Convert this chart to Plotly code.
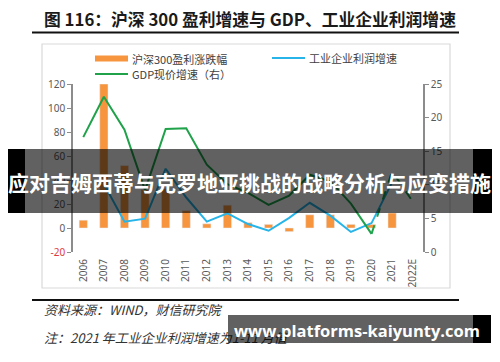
import plotly.graph_objects as go

# ---------------- data ----------------
years = ["2006", "2007", "2008", "2009", "2010", "2011", "2012", "2013", "2014",
         "2015", "2016", "2017", "2018", "2019", "2020", "2021", "2022E"]
csi300_profit = [6.5, 120, 52, 32, 33, 14.5, 3.5, 19, 4.5, 3, -3, 11, 11, 3, 3, 12.5, None]
industrial_profit = [None, 36.7, 5.2, 7.8, 49.4, 25.4, 5.3, 12.2, 3.3, -2.3, 8.5, 21.0,
                     10.3, -3.3, 4.1, 38.0, None]
gdp_nominal = [17.1, 23.1, 18.2, 9.2, 18.3, 18.4, 13.0, 10.1, 8.8, 7.0, 8.4, 11.5,
               10.5, 7.2, 2.7, 12.0, 7.5]
left_ticks = [-20, 0, 20, 40, 60, 80, 100, 120]
right_ticks = [0, 5, 10, 15, 20, 25]

title_text = "图 116：沪深 300 盈利增速与 GDP、工业企业利润增速"
legend_bar = "沪深300盈利涨跌幅"
legend_gdp = "GDP现价增速（右）"
legend_ind = "工业企业利润增速"
source_text = "资料来源：WIND，财信研究院"
note_text = "注：2021 年工业企业利润增速为1-11 月值"
banner_text = "应对吉姆西蒂与克罗地亚挑战的战略分析与应变措施"
site_text = "www.platforms-kaiyunty.com"

# ---------------- geometry helpers ----------------
# page body has an 8px default margin, so the figure is drawn 8px in from the
# window's top-left corner; size the figure so it exactly fills the window.
OFF = 8
W, H = 500, 362
L, R, T, B = 73, 423, 84, 252


def PX(x):
    return (x - L) / (R - L)


def PY(y):
    return (B - y) / (B - T)


ORANGE = "#F7953F"
BLUE = "#27B4E8"
GREEN = "#1FA24A"
AXIS = "#8C8C8C"
TICKC = "#595959"
CJK = "Noto Sans CJK SC"

fig = go.Figure()

fig.add_trace(go.Bar(x=years, y=csi300_profit, marker_color=ORANGE,
                     showlegend=False, yaxis="y"))
fig.add_trace(go.Scatter(x=years, y=industrial_profit, mode="lines",
                         line=dict(color=BLUE, width=2), showlegend=False,
                         yaxis="y"))
split = years.index("2020")
fig.add_trace(go.Scatter(x=years[:split + 1], y=gdp_nominal[:split + 1], mode="lines",
                         line=dict(color=GREEN, width=2), showlegend=False,
                         yaxis="y2"))
fig.add_trace(go.Scatter(x=years[split:], y=gdp_nominal[split:], mode="lines",
                         line=dict(color=GREEN, width=2, dash="dash"),
                         showlegend=False, yaxis="y2"))

left_text = [("<span style='color:#E03A3E'>%d</span>" % v) if v < 0 else str(v)
             for v in left_ticks]

fig.update_layout(
    width=W - OFF, height=H - OFF,
    margin=dict(l=L - OFF, r=W - R, t=T - OFF, b=H - B, pad=0),
    paper_bgcolor="white", plot_bgcolor="rgba(0,0,0,0)",
    bargap=0.6,
    xaxis=dict(type="category", showline=False, ticks="", showgrid=False,
               tickangle=-90, ticklabelstandoff=4,
               tickfont=dict(family="Noto Sans", size=10, color=TICKC),
               range=[-0.5, len(years) - 0.5]),
    xaxis2=dict(overlaying="x", anchor="free", position=PY(228),
                range=[-0.5, len(years) - 0.5], showline=True, linecolor=AXIS,
                linewidth=1.5, ticks="outside", ticklen=4, tickcolor=AXIS,
                tickwidth=1, tickvals=[i - 0.5 for i in range(len(years) + 1)],
                showticklabels=False, showgrid=False, zeroline=False),
    yaxis=dict(range=[-20, 120], tickvals=left_ticks, ticktext=left_text,
               showline=True, linecolor=AXIS, linewidth=1.5, ticks="outside",
               ticklen=4, tickcolor=AXIS, showgrid=False, zeroline=False,
               tickfont=dict(family="Noto Sans", size=10, color=TICKC)),
    yaxis2=dict(range=[0, 25], tickvals=right_ticks, overlaying="y", side="right",
                showline=True, linecolor=AXIS, linewidth=1.5, ticks="outside",
                ticklen=4, tickcolor=AXIS, showgrid=False, zeroline=False,
                tickfont=dict(family="Noto Sans", size=10, color=TICKC)),
)

shapes = []
# chart frame
shapes.append(dict(type="rect", xref="paper", yref="paper", x0=PX(42), x1=PX(450),
                   y0=PY(44), y1=PY(288), line=dict(color="#D9D9D9", width=1.2),
                   layer="below"))
# title underline and bottom rule
shapes.append(dict(type="line", xref="paper", yref="paper", x0=PX(32), x1=PX(459),
                   y0=PY(32.5), y1=PY(32.5), line=dict(color="#111111", width=2.2)))
shapes.append(dict(type="line", xref="paper", yref="paper", x0=PX(32), x1=PX(459),
                   y0=PY(300), y1=PY(300), line=dict(color="#111111", width=2.2)))
# legend swatches
shapes.append(dict(type="rect", xref="paper", yref="paper", x0=PX(95), x1=PX(128),
                   y0=PY(61.5), y1=PY(55.5), fillcolor=ORANGE, line=dict(width=0)))
shapes.append(dict(type="line", xref="paper", yref="paper", x0=PX(95), x1=PX(128),
                   y0=PY(74), y1=PY(74), line=dict(color=GREEN, width=2)))
shapes.append(dict(type="line", xref="paper", yref="paper", x0=PX(272), x1=PX(305),
                   y0=PY(58), y1=PY(58), line=dict(color=BLUE, width=2)))
fig.update_layout(shapes=shapes)

ann = []


def text(x, y, s, size, color="#404040", xanchor="left", family=CJK, **kw):
    ann.append(dict(xref="paper", yref="paper", x=PX(x), y=PY(y), text=s,
                    showarrow=False, xanchor=xanchor, yanchor="middle",
                    font=dict(family=family, size=size, color=color), **kw))


def box(x0, x1, y0, y1, color):
    ann.append(dict(xref="paper", yref="paper", x=PX((x0 + x1) / 2),
                    y=PY((y0 + y1) / 2), text="", showarrow=False,
                    xanchor="center", yanchor="middle", width=x1 - x0,
                    height=y1 - y0, bgcolor=color, borderpad=0, borderwidth=0))


text(250, 19, "<b>" + title_text + "</b>", 16.8, color="#1a1a1a", xanchor="center")
text(130, 58.5, legend_bar, 11)
text(130, 74, legend_gdp, 11)
text(307, 58, legend_ind, 11)
text(42, 309, "<i>" + source_text + "</i>", 13, color="#333333")
text(42, 337, "<i>" + note_text + "</i>", 13, color="#333333")

# overlay banner
box(8, 25, 149, 212.5, "#000000")
box(473, 492, 149, 212.5, "#000000")
box(25, 473, 149, 212.5, "rgba(0,0,0,0.62)")
text(250, 182, "<b>" + banner_text + "</b>", 21, color="white", xanchor="center")

# bottom site watermark
box(473, 491, 315, 343, "#000000")
box(228, 473, 315, 343, "rgba(0,0,0,0.62)")
text(232, 330, "<b>" + site_text + "</b>", 16.5, color="white", family="Open Sans")

fig.update_layout(annotations=ann)

fig.write_html("out.html")
